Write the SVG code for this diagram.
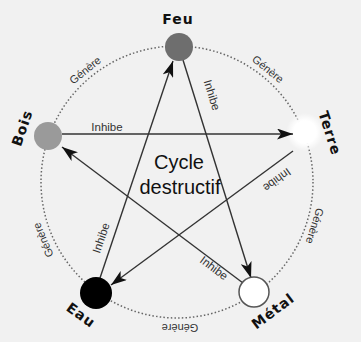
<svg xmlns="http://www.w3.org/2000/svg" width="361" height="342" viewBox="0 0 361 342">
<style>
.gen{font-family:"Liberation Sans",Arial,sans-serif;font-size:11px;fill:#333;text-anchor:middle;dominant-baseline:central}
.inh{font-family:"Liberation Sans",Arial,sans-serif;font-size:11.5px;fill:#333;text-anchor:middle;dominant-baseline:central}
.lbl{font-family:"DejaVu Sans",Verdana,sans-serif;font-size:14px;font-weight:bold;fill:#111;text-anchor:middle;dominant-baseline:central;letter-spacing:1px}
.ctr{font-family:"Liberation Sans",Arial,sans-serif;font-size:20px;fill:#111;text-anchor:middle}
.cn{stroke:#333;stroke-width:1.4;fill:none;marker-end:url(#ah)}
</style>
<defs>
<marker id="ah" markerUnits="userSpaceOnUse" markerWidth="16" markerHeight="11" refX="16" refY="5.5" orient="auto">
<path d="M0,0 L16,5.5 L0,11 L4,5.5 Z" fill="#111"/>
</marker>
<radialGradient id="glow">
<stop offset="0.6" stop-color="#fff"/>
<stop offset="1" stop-color="#fff" stop-opacity="0"/>
</radialGradient>
</defs>
<rect x="0" y="0" width="361" height="342" fill="#f1f1f1"/>
<circle id="cycle" cx="177" cy="182" r="136" fill="none" stroke="#666" stroke-width="1.5" stroke-dasharray="1.5 2.2"/>
<g id="generates">
<text class="gen" transform="translate(85,70) rotate(-39)">Génère</text>
<text class="gen" transform="translate(268,69) rotate(39)">Génère</text>
<text class="gen" transform="translate(315,226) rotate(108)">Génère</text>
<text class="gen" transform="translate(180,328) rotate(180)">Génère</text>
<text class="gen" transform="translate(43,240) rotate(-113)">Génère</text>
</g>
<g id="terre">
<circle cx="305" cy="132" r="19" fill="url(#glow)"/>
<text class="lbl" transform="translate(330,133) rotate(72)">Terre</text>
</g>
<g id="connectors">
<line class="cn" x1="62" y1="134" x2="293" y2="134" stroke-width="2"/>
<line class="cn" x1="183" y1="60" x2="251" y2="278"/>
<line class="cn" x1="243" y1="283" x2="62" y2="147"/>
<line class="cn" x1="100" y1="278" x2="173" y2="61"/>
<line class="cn" x1="293" y1="151" x2="111" y2="285"/>
<text class="inh" transform="translate(107,127)">Inhibe</text>
<text class="inh" transform="translate(212,95) rotate(73)">Inhibe</text>
<text class="inh" transform="translate(101,238) rotate(-71)">Inhibe</text>
<text class="inh" transform="translate(214,268) rotate(37)">Inhibe</text>
<text class="inh" transform="translate(277,180) rotate(144)">Inhibe</text>
</g>
<g id="feu">
<circle cx="179" cy="47" r="14" fill="#6e6e6e"/>
<text class="lbl" transform="translate(178,19)">Feu</text>
</g>
<g id="bois">
<circle cx="48" cy="136" r="14" fill="#9a9a9a"/>
<text class="lbl" transform="translate(22,128) rotate(-71)">Bois</text>
</g>
<g id="eau">
<circle cx="96" cy="293" r="16" fill="#000"/>
<text class="lbl" transform="translate(81,315) rotate(36)">Eau</text>
</g>
<g id="metal">
<circle cx="254" cy="292" r="15" fill="#fff" stroke="#555" stroke-width="1.5"/>
<text class="lbl" transform="translate(273,311) rotate(-37)">Métal</text>
</g>
<g id="center">
<text class="ctr" x="179" y="169">Cycle</text>
<text class="ctr" x="180" y="194">destructif</text>
</g>
</svg>
